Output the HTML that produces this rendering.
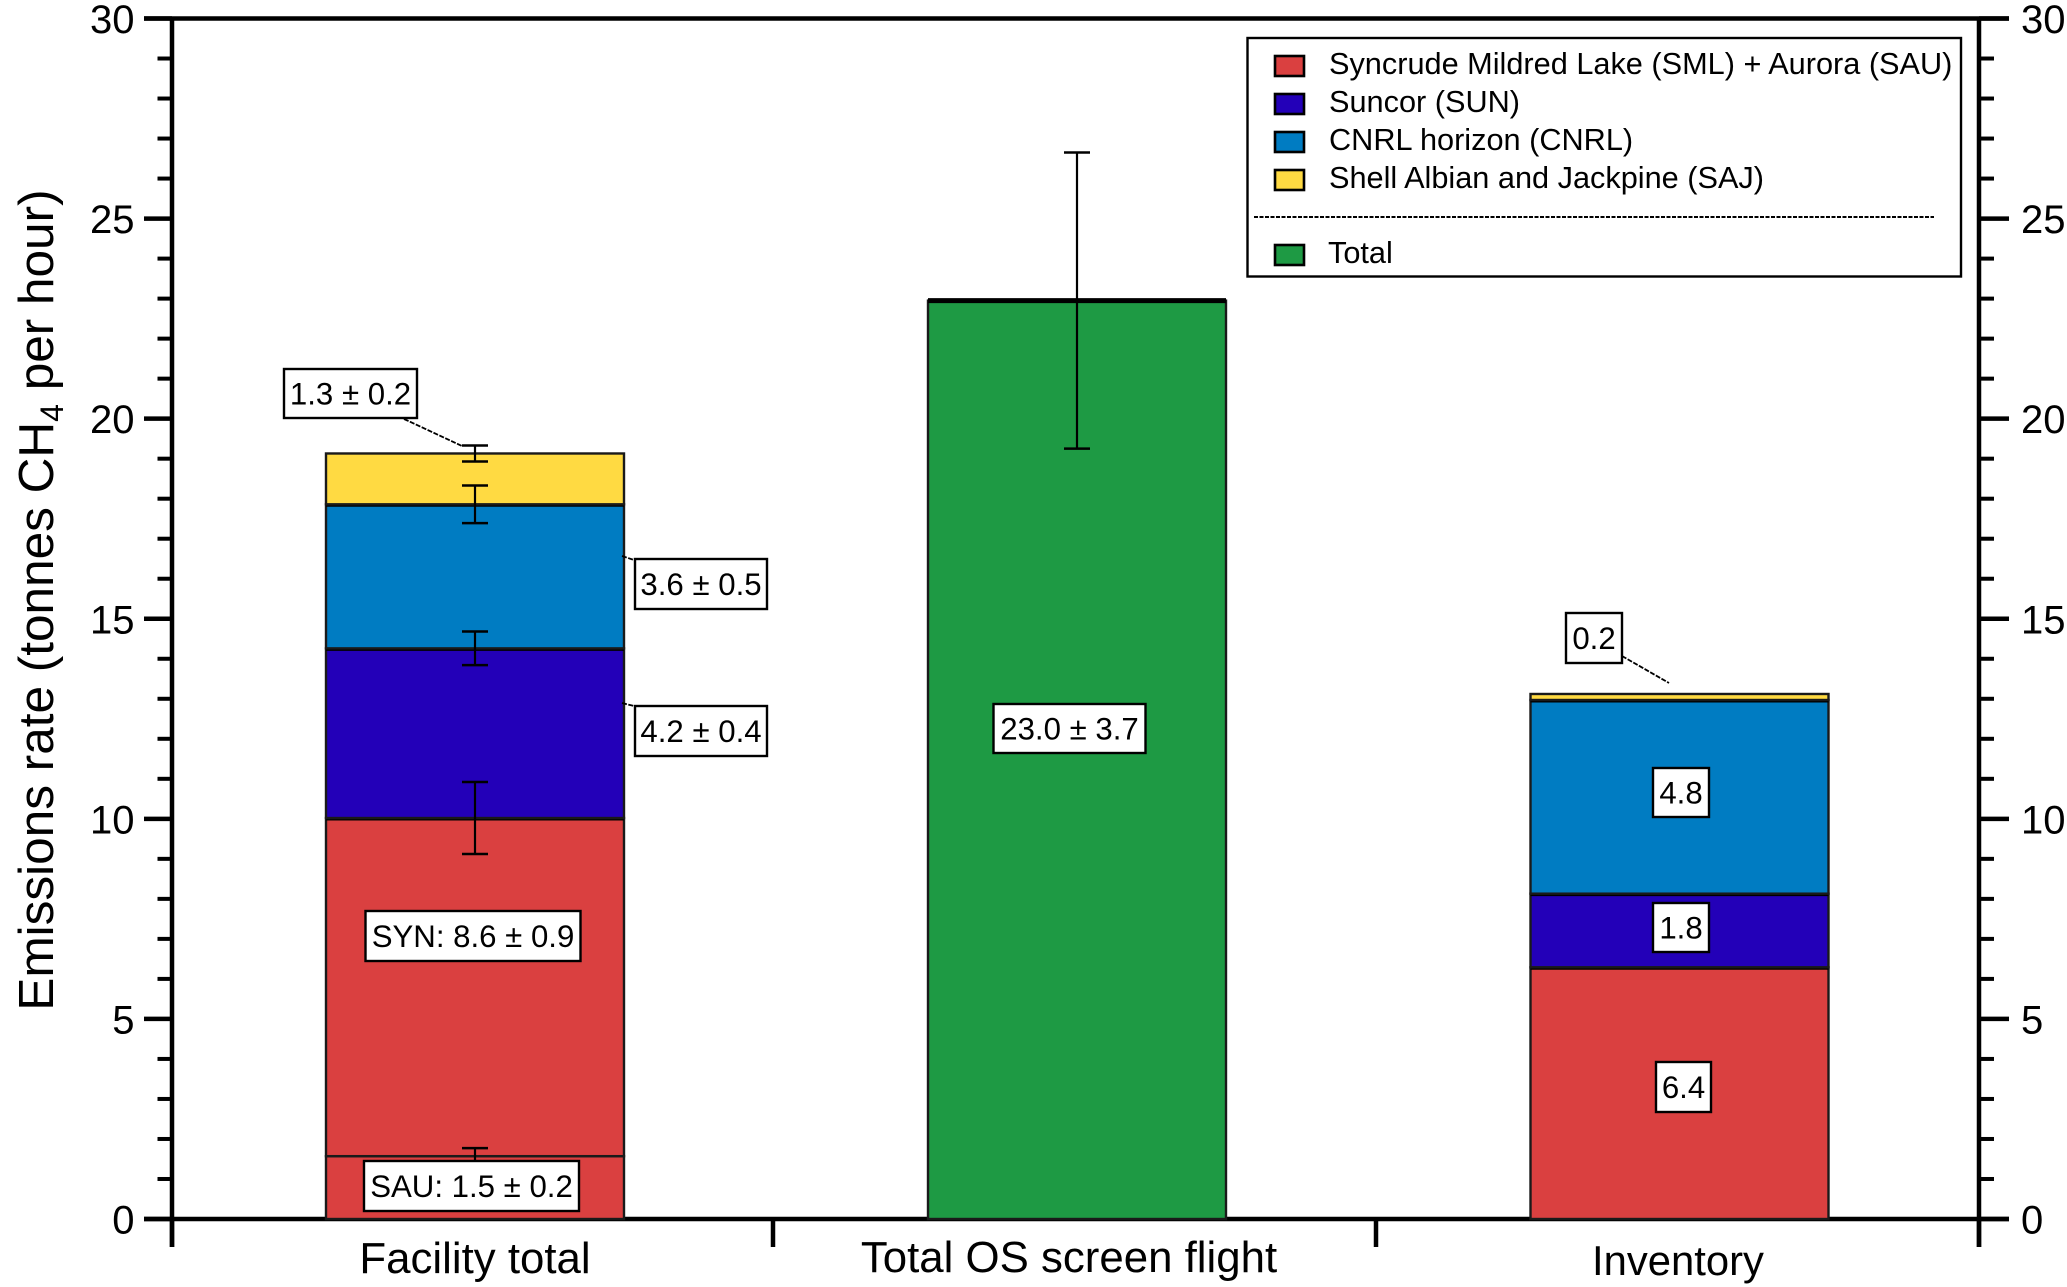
<!DOCTYPE html>
<html lang="en">
<head>
<meta charset="utf-8">
<title>Emissions rate by facility</title>
<style>
html,body{margin:0;padding:0;background:#fff;width:2067px;height:1287px;overflow:hidden}
svg{display:block}
text{font-family:"Liberation Sans",Arial,sans-serif;fill:#000}
</style>
</head>
<body>
<svg id="chart" width="2067" height="1287" viewBox="0 0 2067 1287" xmlns="http://www.w3.org/2000/svg">
  <text transform="translate(53 600) rotate(-90)" text-anchor="middle" font-size="49.5">Emissions rate (tonnes CH<tspan font-size="32" dy="10">4</tspan><tspan dy="-10"> per hour)</tspan></text>
</svg>
<script>
// ---- chart data ----
const categories = ['Facility total', 'Total OS screen flight', 'Inventory'];
const yTickLabels = ['0', '5', '10', '15', '20', '25', '30'];
const yMinorTicks = [0, 1, 2, 3, 4, 5, 6, 7, 8, 9, 10, 11, 12, 13, 14, 15, 16, 17, 18, 19, 20, 21, 22, 23, 24, 25, 26, 27, 28, 29, 30];
const seriesNames = ['sau', 'syn', 'sun', 'cnrl', 'saj'];
const facilityValues = [1.57, 8.45, 4.24, 3.60, 1.27];
const facilityErrors = [0.2, 0.9, 0.42, 0.47, 0.2];
const inventorySeries = ['syn', 'sun', 'cnrl', 'saj'];
const inventoryValues = [6.29, 1.84, 4.84, 0.15];
const totalValues = [22.95];
const totalErrors = [3.7];
const legendLabels = ['Syncrude Mildred Lake (SML) + Aurora (SAU)', 'Suncor (SUN)', 'CNRL horizon (CNRL)', 'Shell Albian and Jackpine (SAJ)'];
const legendTotalLabel = 'Total';

// ---- styles and scales ----
const colors = { sau: '#DA4040', syn: '#DA4040', sun: '#2300B8', cnrl: '#007CC2', saj: '#FFDA42', total: '#1E9A44' };
const legendKeys = ['syn', 'sun', 'cnrl', 'saj'];
const svg = document.getElementById('chart');
const NS = 'http://www.w3.org/2000/svg';
const plotLeft = 172, plotRight = 1979, plotTop = 18.5, plotBottom = 1219;
const barWidth = 298;
const barCenters = [475, 1077, 1679.5];
const groupEdges = [172, 773, 1376, 1979];

function y(v) { return plotBottom - (v / 30) * (plotBottom - plotTop); }

function mk(tag, attrs, text) {
  const el = document.createElementNS(NS, tag);
  for (const k in attrs) el.setAttribute(k, attrs[k]);
  if (text !== undefined) el.textContent = text;
  svg.appendChild(el);
  return el;
}
function seg(x1, y1, x2, y2, w, col) {
  return mk('line', { x1: x1, y1: y1, x2: x2, y2: y2, stroke: col || '#000', 'stroke-width': w });
}

// ---- axes ----
let el;
el = seg(144, plotTop, 2009, plotTop, 4.5);


el = seg(144, plotBottom, 2009, plotBottom, 4.5);


el = seg(plotLeft, plotTop - 2, plotLeft, 1247, 4.5);


el = seg(plotRight, plotTop - 2, plotRight, 1247, 4.5);



yMinorTicks.forEach(function (v) {
  if (v % 5 === 0) return;
  let t = seg(157.5, y(v), plotLeft, y(v), 4);
  
  
  t = seg(plotRight, y(v), 1994, y(v), 4);
  
  
});
yTickLabels.forEach(function (label) {
  const v = Number(label);
  let t = seg(144, y(v), plotLeft, y(v), 4.5);
  
  
  t = seg(plotRight, y(v), 2009, y(v), 4.5);
  
  
  t = mk('text', { x: 134.5, y: y(v) + 14.5, 'text-anchor': 'end', 'font-size': 40 }, label);
  
  
  t = mk('text', { x: 2021, y: y(v) + 14.5, 'font-size': 40 }, label);
  
  
});
groupEdges.forEach(function (x) {
  const t = seg(x, plotBottom, x, 1247, 4.5);
  
  
});
const xLabelCenters = [475, 1069, 1678];
const xLabelBaselines = [1273, 1272, 1275];
const xLabelSizes = [43.8, 43.8, 41.8];
categories.forEach(function (name, i) {
  const t = mk('text', { x: xLabelCenters[i], y: xLabelBaselines[i], 'text-anchor': 'middle', 'font-size': xLabelSizes[i] }, name);
  
  
});

// ---- bars ----
function drawSegment(cx, base, value, key, thickTop) {
  const top = y(base + value);
  const r = mk('rect', { x: cx - barWidth / 2, y: top, width: barWidth, height: y(base) - top, fill: colors[key], stroke: '#1a1a1a', 'stroke-width': 2.4 });
  
  
  if (thickTop) {
    const s = seg(cx - barWidth / 2, top, cx + barWidth / 2, top, 5);
    
    
  }
}
function drawError(cx, center, err) {
  const hi = y(center + err), lo = y(center - err);
  let e = seg(cx, hi, cx, lo, 2.2);
  
  
  e = seg(cx - 13, hi, cx + 13, hi, 2.5);
  
  
  e = seg(cx - 13, lo, cx + 13, lo, 2.5);
  
  
}

let base = 0;
facilityValues.forEach(function (v, i) {
  const key = seriesNames[i];
  drawSegment(barCenters[0], base, v, key, key !== 'sau' && key !== 'saj');
  base += v;
});
drawSegment(barCenters[1], 0, totalValues[0], 'total', true);
base = 0;
inventoryValues.forEach(function (v, i) {
  const key = inventorySeries[i];
  drawSegment(barCenters[2], base, v, key, key !== 'saj');
  base += v;
});

base = 0;
facilityValues.forEach(function (v, i) {
  base += v;
  drawError(barCenters[0], base, facilityErrors[i]);
});
drawError(barCenters[1], totalValues[0], totalErrors[0]);

// ---- value annotations ----
function leader(x1, y1, x2, y2) {
  const l = seg(x1, y1, x2, y2, 1.8);
  l.setAttribute('stroke-dasharray', '5 1.5');
  
  
}
function note(text, x, top, w, h) {
  const b = mk('rect', { x: x, y: top, width: w, height: h, fill: '#fff', stroke: '#000', 'stroke-width': 2.4 });
  
  
  const t = mk('text', { x: x + w / 2, y: top + h / 2 + 11, 'text-anchor': 'middle', 'font-size': 31.2 }, text);
  
  
}
leader(404, 419, 462, 446);
leader(622, 556, 634, 560);
leader(622, 703, 634, 706);
leader(1622, 656, 1669, 683);
note('1.3 \u00B1 0.2', 284, 369, 133, 49);
note('3.6 \u00B1 0.5', 635, 559, 132, 50);
note('4.2 \u00B1 0.4', 635, 706, 132, 50);
note('SYN: 8.6 \u00B1 0.9', 365.5, 911, 215, 50);
note('SAU: 1.5 \u00B1 0.2', 364, 1161, 215, 50);
note('23.0 \u00B1 3.7', 993.5, 704, 152, 49);
note('0.2', 1566, 613, 56, 50);
note('4.8', 1653, 768, 56, 49);
note('1.8', 1653, 903, 56, 49);
note('6.4', 1656, 1062, 55, 50);

// ---- legend ----
const box = mk('rect', { x: 1247.5, y: 38, width: 713.5, height: 238.5, fill: '#fff', stroke: '#000', 'stroke-width': 2.4 });


const legendRowTops = [56, 94, 132, 170];
legendLabels.forEach(function (label, i) {
  const s = mk('rect', { x: 1275, y: legendRowTops[i], width: 29, height: 20, fill: colors[legendKeys[i]], stroke: '#000', 'stroke-width': 2.6 });
  
  
  const t = mk('text', { x: 1329, y: legendRowTops[i] + 18, 'font-size': 30.7 }, label);
  
  
});
const divider = seg(1254, 217, 1934, 217, 2);
divider.setAttribute('stroke-dasharray', '4 1.5');


const totalSwatch = mk('rect', { x: 1275, y: 245, width: 29, height: 20, fill: colors.total, stroke: '#000', 'stroke-width': 2.6 });


const totalText = mk('text', { x: 1328, y: 263, 'font-size': 30.7 }, legendTotalLabel);


</script>
</body>
</html>
